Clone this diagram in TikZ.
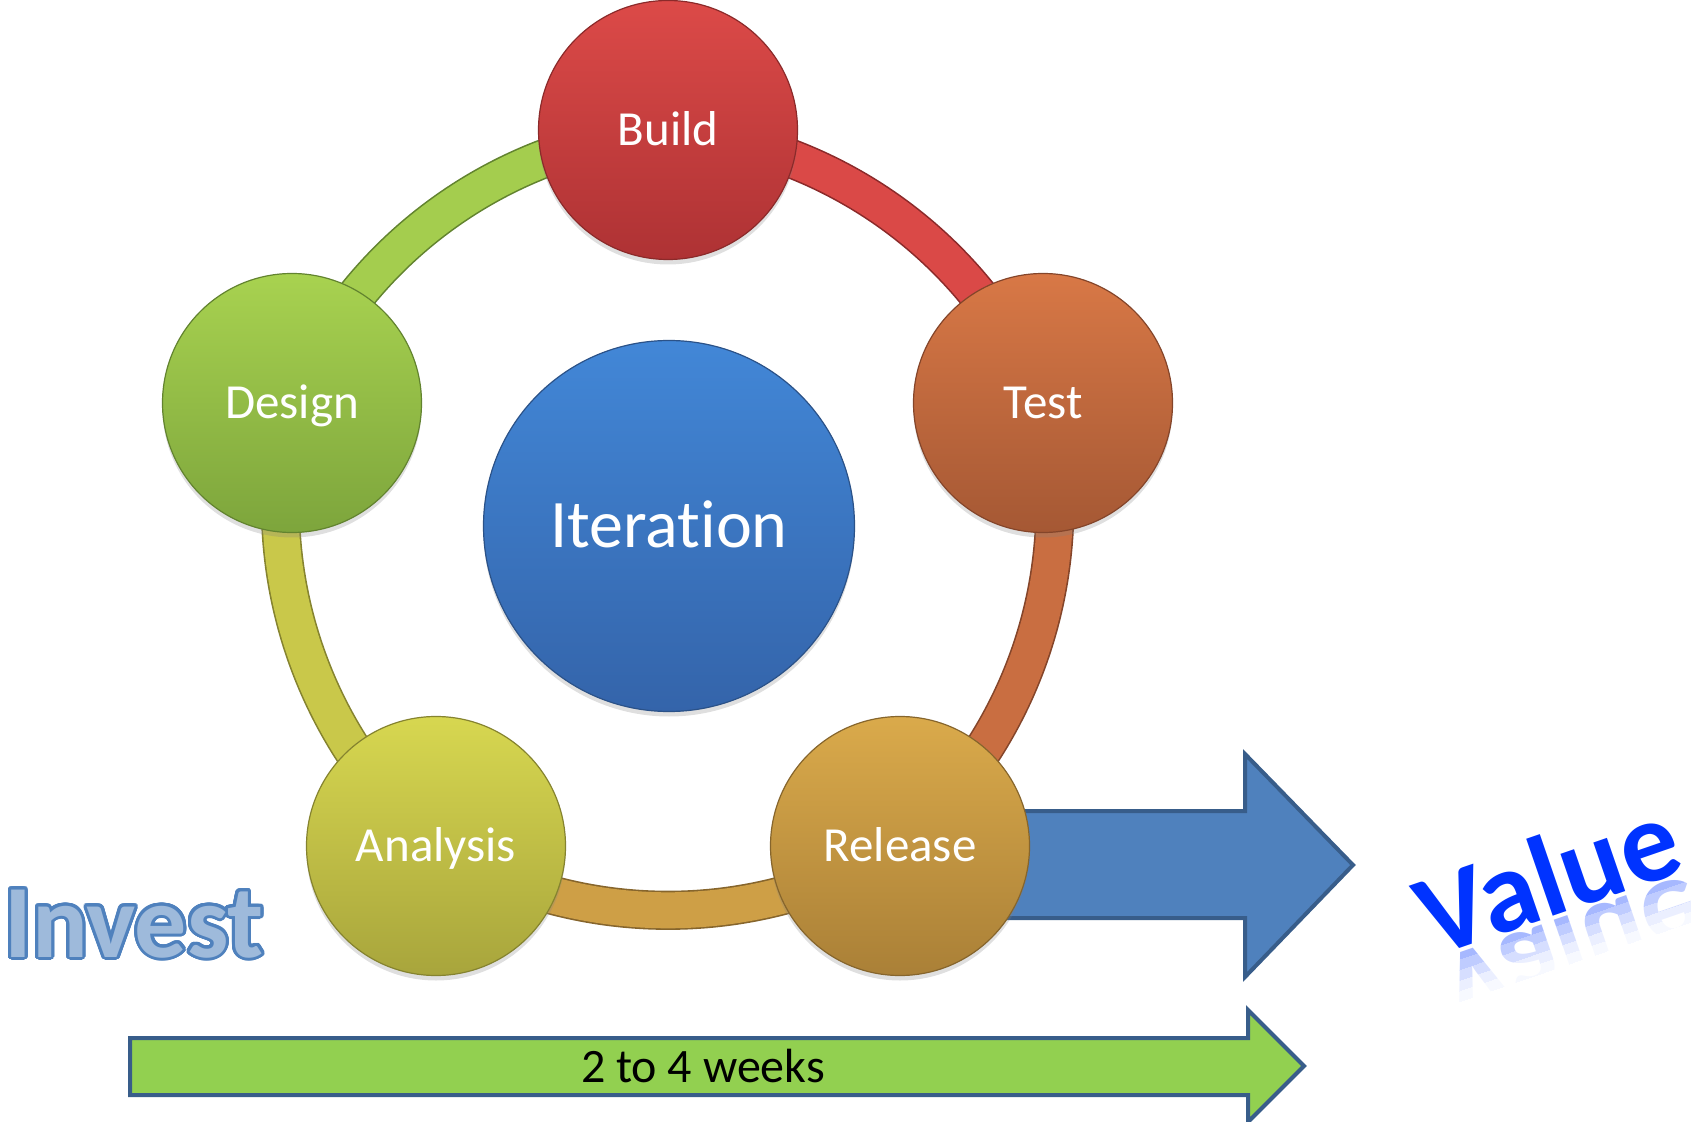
\documentclass[tikz,border=0pt]{standalone}
\usepackage{fontspec}
\setmainfont{Carlito}[Ligatures={NoCommon}]
\usepackage{xcolor}
\usepackage[copies]{contour}
\usetikzlibrary{shadows,backgrounds,positioning,calc}
\contourlength{1.5pt}
\contournumber{32}
\definecolor{BuildTop}{HTML}{DC4A48}
\definecolor{BuildBot}{HTML}{AE3234}
\definecolor{BuildLine}{HTML}{8B2A2A}
\definecolor{TestTop}{HTML}{D87846}
\definecolor{TestBot}{HTML}{A55834}
\definecolor{TestLine}{HTML}{84452A}
\definecolor{ReleaseTop}{HTML}{DAAA4B}
\definecolor{ReleaseBot}{HTML}{AA8037}
\definecolor{ReleaseLine}{HTML}{86652C}
\definecolor{AnalysisTop}{HTML}{D7D750}
\definecolor{AnalysisBot}{HTML}{A8A53C}
\definecolor{AnalysisLine}{HTML}{85832F}
\definecolor{DesignTop}{HTML}{A8D250}
\definecolor{DesignBot}{HTML}{7DA53C}
\definecolor{DesignLine}{HTML}{62832F}
\definecolor{IterTop}{HTML}{4287D7}
\definecolor{IterBot}{HTML}{3464AA}
\definecolor{IterLine}{HTML}{2B5288}
\definecolor{ArrowBlue}{HTML}{4F81BD}
\definecolor{ArrowLine}{HTML}{385D8A}
\definecolor{ArrowGreen}{HTML}{92D050}
\definecolor{ValueBlue}{HTML}{0033FF}
\tikzset{
    phase/.style={
        circle,
        inner sep=0pt,
        minimum size=129.5pt,
        line width=0.6pt,
        text=white,
        font=\fontsize{24.5}{29}\selectfont,
        text height=15.8pt,
        text depth=0pt,
        drop shadow={opacity=0.25, shadow xshift=0pt, shadow yshift=-2.5pt},
    },
    ring/.style={
        line width=0.8pt,
        double distance=18pt,
        bend left=31,
        looseness=0.92,
    },
    bigarrow/.style={
        line width=2pt,
        draw=ArrowLine,
        line join=miter,
    },
    valuetext/.style={
        font=\bfseries\fontsize{58}{66}\selectfont,
        inner sep=0pt,
    },
}

\begin{document}
\begin{tikzpicture}[x=0.5pt, y=-0.5pt]
    \useasboundingbox (0,0) rectangle (1691,1122);
    % the five phases and the centre
    \node [phase, top color=BuildTop, bottom color=BuildBot, draw=BuildLine] (build) at (668,130) {Build};
    \node [phase, top color=TestTop, bottom color=TestBot, draw=TestLine] (test) at (1043,403) {Test};
    \node [phase, top color=ReleaseTop, bottom color=ReleaseBot, draw=ReleaseLine] (release) at (900,846) {Release};
    \node [phase, top color=AnalysisTop, bottom color=AnalysisBot, draw=AnalysisLine] (analysis) at (436,846) {Analysis};
    \node [phase, top color=DesignTop, bottom color=DesignBot, draw=DesignLine] (design) at (292,403) {Design};
    \node [phase, minimum size=185.5pt, font=\fontsize{34}{40}\selectfont, text height=21.9pt,
        top color=IterTop, bottom color=IterBot, draw=IterLine] (iteration) at (669,526) {Iteration};
    % ring and arrows behind
    \begin{scope}[on background layer]
        \path (design.center) edge [ring, draw=DesignLine, double=DesignTop!90!DesignBot] (build.center);
        \path (build.center) edge [ring, draw=BuildLine, double=BuildTop!95!BuildBot] (test.center);
        \path (test.center) edge [ring, draw=TestLine, double=TestTop!70!TestBot] (release.center);
        \path (release.center) edge [ring, draw=ReleaseLine, double=ReleaseTop!75!ReleaseBot] (analysis.center);
        \path (analysis.center) edge [ring, draw=AnalysisLine, double=AnalysisTop!70!AnalysisBot] (design.center);
        \draw [bigarrow, fill=ArrowBlue] (985,811) -- (1245,811) -- (1245,754) -- (1353,865)
            -- (1245,977) -- (1245,918) -- (985,918) -- cycle;
    \end{scope}
    \draw [bigarrow, fill=ArrowGreen] (130,1038) -- (1248,1038) -- (1248,1010) -- (1304,1066)
        -- (1248,1122) -- (1248,1095) -- (130,1095) -- cycle;
    \node [font=\fontsize{24}{28}\selectfont, text height=15.5pt, text depth=0pt] (weeks) at (703,1067) {2 to 4 weeks};
    % invest and value
    \node [font=\bfseries\fontsize{52}{60}\selectfont, inner sep=0pt, anchor=base west] (invest) at (4,957)
        {\contour{ArrowBlue}{\textcolor{ArrowBlue!55}{Invest}}};
    \foreach \k/\op in {0/35,1/25,2/16,3/8,4/3} {
        \begin{scope}[shift={(1433,958)}, rotate=19]
            \clip (-30,\k*10) rectangle (330,\k*10+10);
            \node [valuetext, transform shape, yscale=-1, anchor=base west, text=ValueBlue!\op] (valueref\k) at (0,4) {Value};
        \end{scope}
    }
    \node [valuetext, rotate=19, anchor=base west, text=ValueBlue] (value) at (1433,958) {Value};
\end{tikzpicture}
\end{document}
